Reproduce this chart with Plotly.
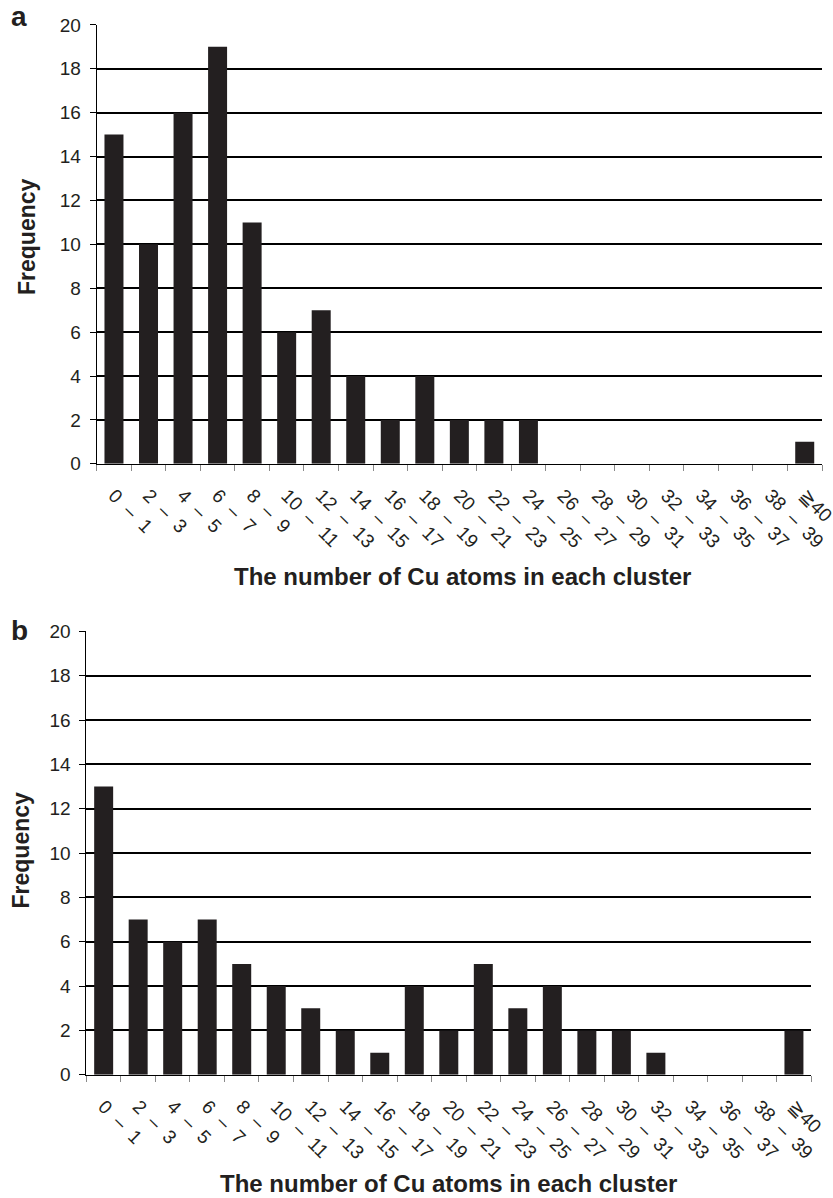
import plotly.graph_objects as go

# Cluster-size bins (number of Cu atoms per cluster)
bins = ["0 – 1", "2 – 3", "4 – 5", "6 – 7", "8 – 9", "10 – 11", "12 – 13",
        "14 – 15", "16 – 17", "18 – 19", "20 – 21", "22 – 23", "24 – 25",
        "26 – 27", "28 – 29", "30 – 31", "32 – 33", "34 – 35", "36 – 37",
        "38 – 39", "≧40"]
freq_a = [15, 10, 16, 19, 11, 6, 7, 4, 2, 4, 2, 2, 2, 0, 0, 0, 0, 0, 0, 0, 1]
freq_b = [13, 7, 6, 7, 5, 4, 3, 2, 1, 4, 2, 5, 3, 4, 2, 2, 1, 0, 0, 0, 2]
y_ticks = [0, 2, 4, 6, 8, 10, 12, 14, 16, 18, 20]

W, H = 833, 1198
FONT = "Arial, Liberation Sans, sans-serif"
INK = "#231f20"
NB = "\u00a0"

# slanted tick labels with wider spacing round the dash
labels = [b.replace(" – ", NB * 2 + "–" + NB * 2) for b in bins]


def fx(px):
    return px / W


def fy(py):
    return 1 - py / H


panels = [
    # letter, data, plot box (left, right, top, bottom), letter (y, anchor),
    # y-title (x, y), x-title (dx, dy)
    dict(name="a", data=freq_a, box=(96.7, 822.0, 24.9, 463.8), letter=(0, "top"),
         ytitle=(26.5, 236.5), xtitle=(3, 112.5)),
    dict(name="b", data=freq_b, box=(86.4, 811.2, 631.3, 1074.8), letter=(630, "middle"),
         ytitle=(20.0, 850.5), xtitle=(0, 108.5)),
]

fig = go.Figure()
annotations = []
for i, p in enumerate(panels):
    x0, x1, y0, y1 = p["box"]
    sfx = "" if i == 0 else str(i + 1)
    fig.add_trace(go.Bar(x=labels, y=p["data"], marker=dict(color=INK, line=dict(width=0)),
                         xaxis="x" + sfx, yaxis="y" + sfx, showlegend=False))
    fig.update_layout(**{
        "xaxis" + sfx: dict(
            domain=[fx(x0), fx(x1)], anchor="y" + sfx,
            type="category", tickangle=45, tickson="boundaries",
            ticks="outside", ticklen=6, tickcolor="#8a8a8a", tickwidth=1,
            showline=True, linecolor="black", linewidth=1.3,
            showgrid=False, ticklabelstandoff=12, automargin=False,
            tickfont=dict(family=FONT, size=19, color=INK),
        ),
        "yaxis" + sfx: dict(
            domain=[fy(y1), fy(y0)], anchor="x" + sfx,
            range=[0, 20], tickvals=y_ticks,
            ticks="outside", ticklen=6, tickcolor="black", tickwidth=1.3,
            showline=True, linecolor="black", linewidth=1,
            showgrid=True, gridcolor="black", gridwidth=1.5,
            zeroline=False, ticklabelstandoff=5, automargin=False,
            tickfont=dict(family=FONT, size=19, color=INK),
        ),
    })
    # panel letter
    ly, lanchor = p["letter"]
    annotations.append(dict(text="<b>%s</b>" % p["name"], xref="paper", yref="paper",
                            x=fx(10), y=fy(ly), xanchor="left", yanchor=lanchor,
                            showarrow=False, borderpad=0,
                            font=dict(family=FONT, size=28, color=INK)))
    # y-axis title
    tx, ty = p["ytitle"]
    annotations.append(dict(text="<b>Frequency</b>", xref="paper", yref="paper",
                            x=fx(tx), y=fy(ty), xanchor="center",
                            yanchor="middle", textangle=-90, showarrow=False,
                            font=dict(family=FONT, size=23, color=INK)))
    # x-axis title
    dx, dy = p["xtitle"]
    annotations.append(dict(text="<b>The number of Cu atoms in each cluster</b>",
                            xref="paper", yref="paper",
                            x=fx((x0 + x1) / 2 + dx), y=fy(y1 + dy), xanchor="center",
                            yanchor="middle", showarrow=False,
                            font=dict(family=FONT, size=24, color=INK)))

fig.update_layout(
    width=W, height=H,
    margin=dict(l=0, r=0, t=0, b=0, autoexpand=False),
    paper_bgcolor="white", plot_bgcolor="white",
    bargap=0.45,
    annotations=annotations,
    font=dict(family=FONT, color=INK),
)

fig.write_html("out.html")
